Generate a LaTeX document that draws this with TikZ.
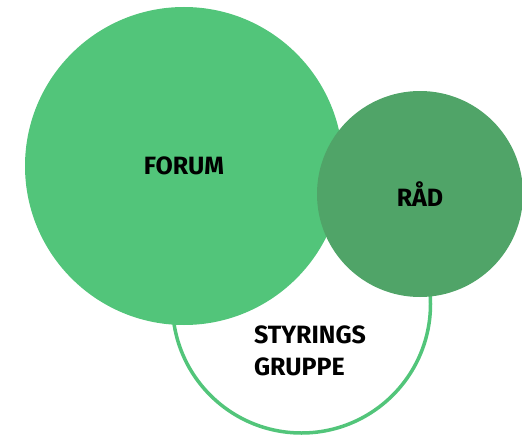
\documentclass[tikz,border=0pt]{standalone}
\usepackage{fontspec}
\setmainfont{Fira Sans}
\usepackage{tikz}
\usetikzlibrary{positioning}

\definecolor{forumgreen}{HTML}{52C57A}
\definecolor{raadgreen}{HTML}{50A468}

\begin{document}
\begin{tikzpicture}[x=1pt, y=-1pt, every node/.style={circle, inner sep=0pt, text centered, font=\fontsize{25}{32}\selectfont\bfseries}]

\def\forumsize{318pt}
\def\raadsize{206pt}
\def\styringsize{258pt}

  \useasboundingbox (0,0) rectangle (522,436);

  % Circles
  \node (styring) [draw=forumgreen, line width=3.5pt, fill=white, minimum size=\styringsize] at (301.5,304) {};
  \node (forum) [fill=forumgreen, minimum size=\forumsize] at (184,166) {FORUM};
  \node (raad) [fill=raadgreen, minimum size=\raadsize] at (420,194) {RÅD};

  % Text
  \node (styring_text) [rectangle, align=left] at (310,351) {STYRINGS\\GRUPPE};

\end{tikzpicture}
\end{document}
